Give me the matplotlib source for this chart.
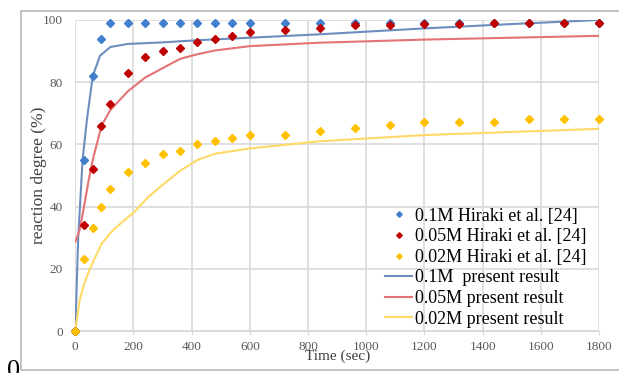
import matplotlib
matplotlib.use('Agg')
from matplotlib import pyplot as plt
from matplotlib.patches import Rectangle

# Hiraki et al. [24] measured points
t_exp = [0, 30, 60, 90, 120, 180, 240, 300, 360, 420, 480, 540, 600,
         720, 840, 960, 1080, 1200, 1320, 1440, 1560, 1680, 1800]
exp_01 = [0, 55, 82, 94, 99, 99, 99, 99, 99, 99, 99, 99, 99,
          99, 99, 99, 99, 99, 99, 99, 99, 99, 99]
exp_005 = [0, 34, 52, 66, 73, 83, 88, 90, 91, 93, 94, 95, 96,
           96.8, 97.4, 98.4, 98.4, 98.7, 98.8, 99, 99, 99, 99]
exp_002 = [0, 23, 33, 40, 45.5, 51, 54, 57, 58, 60, 61, 62, 63,
           63, 64.3, 65.2, 66.1, 67.2, 67.2, 67.2, 68.2, 68.2, 68.2]

# present result curves
t_01 = [0, 10, 25, 40, 60, 85, 120, 180, 300, 420, 600, 840, 1200, 1500, 1800]
sim_01 = [0, 30, 55, 68, 82, 88.5, 91.3, 92.3, 92.8, 93.5, 94.3, 95.4, 97.3, 98.7, 100]

t_005 = [0, 15, 30, 45, 60, 90, 120, 180, 240, 300, 360, 420, 480, 600, 840, 1200, 1800]
sim_005 = [28.7, 32.5, 40, 48, 55, 66, 71, 77, 81.5, 84.5, 87.5, 89, 90.2, 91.6, 92.7, 93.7, 94.9]

t_002 = [0, 15, 30, 50, 90, 130, 180, 200, 250, 300, 360, 420, 480, 600, 840, 1200, 1800]
sim_002 = [0, 10, 15, 20, 28, 32.5, 36.5, 38, 43, 47, 51.5, 55, 57, 58.7, 61, 63, 65]

xticks = [0, 200, 400, 600, 800, 1000, 1200, 1400, 1600, 1800]
yticks = [0, 20, 40, 60, 80, 100]

plt.rcParams['font.family'] = ['Liberation Serif', 'DejaVu Serif']

fig = plt.figure(figsize=(6.19, 3.73), dpi=100)
# chart frame like the Excel chart area
fig.patches.append(Rectangle((20.5 / 619, 1 - 369.5 / 373), 1.0, (369.5 - 10.5) / 373,
                             transform=fig.transFigure, fill=False,
                             edgecolor='#b8b8b8', linewidth=1.2))

ax = fig.add_axes([75.3 / 619, 1 - 331 / 373, (599 - 75.3) / 619, (331 - 20) / 373])

ax.plot(t_exp, exp_01, 'D', color='#3f7fcc', markersize=4, clip_on=False,
        label='0.1M Hiraki et al. [24]', zorder=4)
ax.plot(t_exp, exp_005, 'D', color='#c00000', markersize=4, clip_on=False,
        label='0.05M Hiraki et al. [24]', zorder=4)
ax.plot(t_exp, exp_002, 'D', color='#ffc000', markersize=4, clip_on=False,
        label='0.02M Hiraki et al. [24]', zorder=4)
ax.plot(t_01, sim_01, '-', color='#6c8ebf', linewidth=1.5,
        label='0.1M  present result', zorder=3)
ax.plot(t_005, sim_005, '-', color='#e57373', linewidth=1.5,
        label='0.05M present result', zorder=3)
ax.plot(t_002, sim_002, '-', color='#ffd966', linewidth=1.5,
        label='0.02M present result', zorder=3)

ax.set_xlim(0, 1800)
ax.set_ylim(0, 100)
ax.set_xticks(xticks)
ax.set_yticks(yticks)
ax.grid(True, color='#d9d9d9', linewidth=1.2)
ax.set_axisbelow(True)
for s in ['top', 'right', 'left']:
    ax.spines[s].set_visible(False)
ax.spines['bottom'].set_color('#d9d9d9')
ax.tick_params(axis='y', length=0, pad=9, labelsize=9.5, labelcolor='#595959')
ax.tick_params(axis='x', length=3, color='#d9d9d9', pad=4, labelsize=9.5, labelcolor='#595959')

ax.set_xlabel('Time (sec)', fontsize=11, labelpad=-2, color='#404040')
ax.set_ylabel('reaction degree (%)', fontsize=12.5, labelpad=-3, color='#404040')

leg = ax.legend(loc='lower right', bbox_to_anchor=(1.0, -0.03), frameon=False,
                fontsize=13, handlelength=1.5, handletextpad=0.15,
                labelspacing=0.2, borderaxespad=0.3, markerscale=0.7)

fig.text(7 / 619, -0.01, '0', fontsize=19, ha='left', va='baseline')

fig.savefig('out.png', dpi=100)
